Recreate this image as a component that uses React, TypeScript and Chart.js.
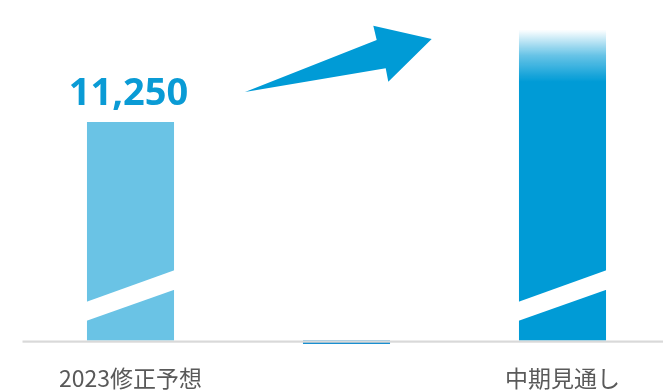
import { useEffect, useRef } from 'react';
import { Chart, registerables } from 'chart.js';

Chart.register(...registerables);

// ---- data ----
const categories: string[] = ['2023修正予想', '', '中期見通し'];
const values: number[] = [11250, -180, 16000];
const valueLabels: string[] = ['11,250', '', ''];
const yMin = -180;
const yMax = 17530;

const LIGHT = '#6ac3e5';
const DARK = '#009bd6';
const MID = '#1a8fd0';

const decorPlugin = {
  id: 'decor',
  afterDatasetsDraw(chart: any) {
    const { ctx, chartArea, scales } = chart;
    const meta = chart.getDatasetMeta(0);
    const y0 = scales.y.getPixelForValue(0);
    ctx.save();
    // break stripes
    [0, 2].forEach((i) => {
      const el = meta.data[i];
      if (!el) return;
      const l = el.x - el.width / 2 - 1;
      const r = el.x + el.width / 2 + 1;
      const b = el.base;
      ctx.fillStyle = '#ffffff';
      ctx.beginPath();
      ctx.moveTo(l, b - 38.5);
      ctx.lineTo(r, b - 70.5);
      ctx.lineTo(r, b - 51);
      ctx.lineTo(l, b - 19.5);
      ctx.closePath();
      ctx.fill();
    });
    // baseline
    ctx.fillStyle = '#d9d9d9';
    ctx.fillRect(chartArea.left, y0, chartArea.right - chartArea.left, 2.2);
    // value labels
    ctx.fillStyle = '#0a9bd5';
    ctx.font = 'bold 38px "Noto Sans"';
    ctx.textAlign = 'center';
    ctx.textBaseline = 'alphabetic';
    valueLabels.forEach((t, i) => {
      if (!t) return;
      const el = meta.data[i];
      ctx.fillText(t, el.x - 2, el.y - 17);
    });
    // arrow (decoration, relative to chart area)
    const L = chartArea.left;
    const T = chartArea.top;
    const pts: [number, number][] = [
      [222.5, 92], [354.2, 40], [350.8, 25.7], [409.2, 39], [365.8, 81.7], [363.2, 68.3],
    ];
    ctx.fillStyle = '#009bd6';
    ctx.beginPath();
    pts.forEach(([x, y], k) => {
      if (k === 0) ctx.moveTo(L + x, T + y);
      else ctx.lineTo(L + x, T + y);
    });
    ctx.closePath();
    ctx.fill();
    ctx.restore();
  },
};

export default function App() {
  const ref = useRef<HTMLCanvasElement | null>(null);
  useEffect(() => {
    if (!ref.current) return;
    const chart = new Chart(ref.current, {
      type: 'bar',
      data: {
        labels: categories,
        datasets: [
          {
            data: values,
            backgroundColor: (c: any) => {
              const i = c.dataIndex;
              if (i === 0) return LIGHT;
              if (i === 1) return MID;
              const ch = c.chart;
              if (!ch.chartArea || !ch.scales.y) return DARK;
              const top = ch.scales.y.getPixelForValue(values[2]);
              const g = ch.ctx.createLinearGradient(0, top, 0, top + 52);
              g.addColorStop(0, 'rgba(0,155,214,0)');
              g.addColorStop(0.5, 'rgba(0,155,214,0.6)');
              g.addColorStop(1, DARK);
              return g;
            },
            borderWidth: 0,
            categoryPercentage: 1,
            barPercentage: 0.403,
          },
        ],
      },
      options: {
        responsive: false,
        animation: false,
        maintainAspectRatio: false,
        layout: { padding: { left: 22.5, right: 0.5, top: 0, bottom: 0 } },
        plugins: { legend: { display: false }, tooltip: { enabled: false } },
        scales: {
          x: {
            grid: { display: false, drawTicks: false },
            border: { display: false },
            ticks: {
              color: '#595959',
              font: { family: '"Noto Sans CJK JP"', size: 23 },
              padding: 20,
              maxRotation: 0,
              autoSkip: false,
            },
            afterFit: (s: any) => {
              s.height = 48;
            },
          },
          y: {
            display: false,
            min: yMin,
            max: yMax,
          },
        },
      },
      plugins: [decorPlugin],
    });
    return () => chart.destroy();
  }, []);
  return (
    <div style={{ position: 'fixed', left: 0, top: 0, width: 663, height: 392, overflow: 'hidden', background: '#fff' }}>
      <canvas ref={ref} width={671} height={392} style={{ display: 'block' }} />
    </div>
  );
}
